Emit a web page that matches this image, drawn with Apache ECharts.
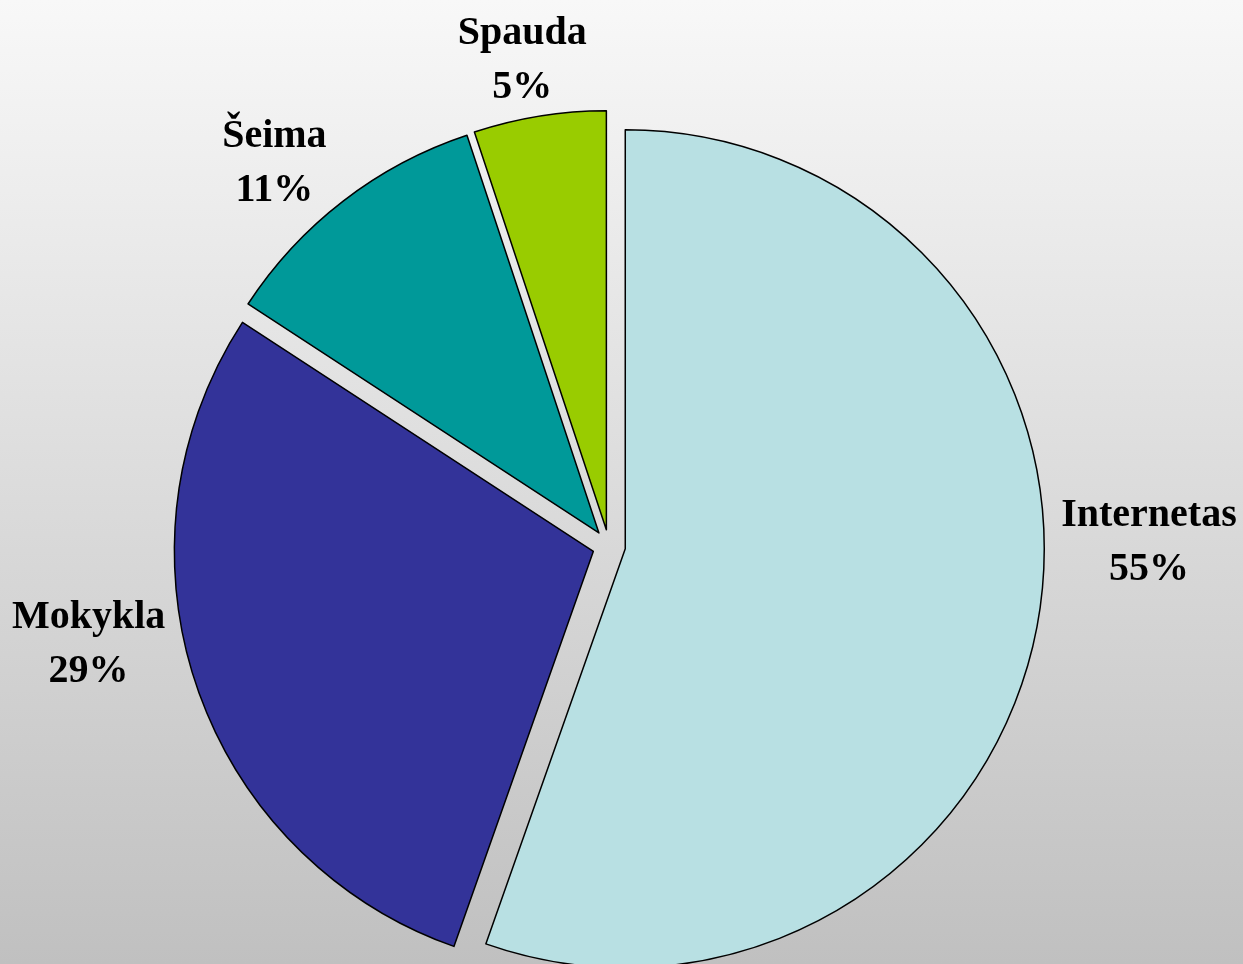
<!DOCTYPE html>
<html>
<head>
<meta charset="utf-8">
<title>Pie</title>
<script src="https://cdn.jsdelivr.net/npm/echarts@6/dist/echarts.min.js"></script>
<style>
  html, body { margin: 0; padding: 0; }
  #main { width: 1243px; height: 964px; }
</style>
</head>
<body>
<div id="main"></div>
<script>
// duomenys
const categories = ['Internetas', 'Mokykla', 'Šeima', 'Spauda'];
const shares = [55.4, 28.8, 10.7, 5.1];
const sliceColors = ['#B8E0E3', '#333399', '#009999', '#99CC00'];

// label nudges (px) from the default outside spot, same order as categories
const labelNudge = [[86, -80], [-84, -48], [-27, -46], [-9, -36]];

const myChart = echarts.init(document.getElementById('main'));

const option = {
  animation: false,
  backgroundColor: {
    type: 'linear', x: 0, y: 0, x2: 0, y2: 1,
    colorStops: [
      { offset: 0, color: '#F8F8F8' },
      { offset: 1, color: '#C0C0C0' }
    ]
  },
  series: [
    {
      type: 'pie',
      center: [609, 546],
      radius: 419,
      startAngle: 90,
      clockwise: true,
      percentPrecision: 0,
      selectedMode: 'multiple',
      selectedOffset: 16.5,
      emphasis: { disabled: true },
      itemStyle: { borderColor: '#000', borderWidth: 1.5 },
      label: {
        show: true,
        position: 'outside',
        alignTo: 'none',
        overflow: 'none',
        formatter: '{b}\n{d}%',
        fontFamily: '"Liberation Serif", "Times New Roman", serif',
        fontWeight: 'bold',
        fontSize: 40,
        lineHeight: 54,
        color: '#000'
      },
      labelLine: { show: false, length: 20, length2: 0 },
      labelLayout: function (params) {
        const n = labelNudge[params.dataIndex];
        return { dx: n[0], dy: n[1], align: 'center' };
      },
      data: categories.map((name, i) => ({
        name: name,
        value: shares[i],
        selected: true,
        itemStyle: { color: sliceColors[i] }
      }))
    }
  ]
};

myChart.setOption(option);
</script>
</body>
</html>
